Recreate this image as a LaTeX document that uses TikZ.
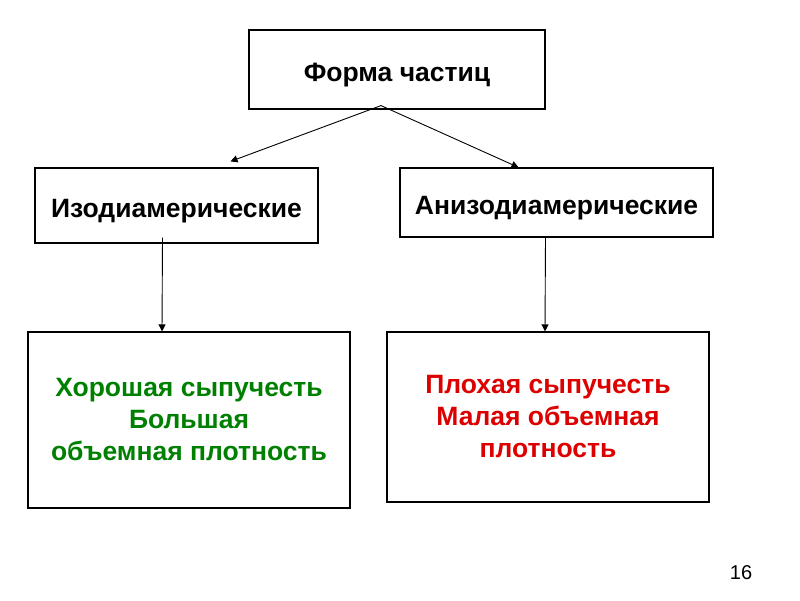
\documentclass[tikz,border=0pt]{standalone}
\usepackage{fontspec}
\setmainfont{Liberation Sans}
\usetikzlibrary{calc,arrows.meta}
\definecolor{goodgreen}{RGB}{0,128,0}
\definecolor{badred}{RGB}{220,0,0}
\begin{document}
\begin{tikzpicture}[x=1pt,y=-1pt,
    box/.style={draw,line width=1.2pt,fill=white,align=center,font={\fontsize{26.5}{32}\selectfont\bfseries}},
    oneline/.style={text height=30pt,text depth=6pt},
    link/.style={line width=0.9pt,-{Triangle[width=7pt,length=7pt]}}]
    \useasboundingbox[fill=white] (0,0) rectangle (800,600);

    \node[box,oneline,minimum width=296pt,minimum height=79pt] (form) at (397,69.5) {Форма частиц};

    \node[box,oneline,minimum width=283pt,minimum height=75pt] (iso) at (176.5,205.5) {Изодиамерические};
    \node[box,oneline,minimum width=313pt,minimum height=69pt] (aniso) at (556.5,202.5) {Анизодиамерические};

    \node[box,minimum width=322pt,minimum height=176pt,text=goodgreen] (good) at (189,420) {
        Хорошая сыпучесть\\
        Большая\\
        объемная плотность
    };
    \node[box,minimum width=322pt,minimum height=170pt,text=badred] (bad) at (548,417) {
        Плохая сыпучесть\\
        Малая объемная\\
        плотность
    };

    \coordinate (split) at ($ (form.south) + (-16,-4) $);
    \draw[link] (split) -- ($ (iso.north) + (54,-6) $);
    \draw[link] (split) -- ($ (aniso.north) + (-38,0) $);

    \draw[link] ($ (iso.south) + (-14,-6) $) -- ($ (good.north) + (-27,0) $);
    \draw[link] ($ (aniso.south) + (-11,0) $) -- ($ (bad.north) + (-3,0) $);

    \node[font={\fontsize{20}{22}\selectfont}] (page) at (741,573) {16};
\end{tikzpicture}
\end{document}
